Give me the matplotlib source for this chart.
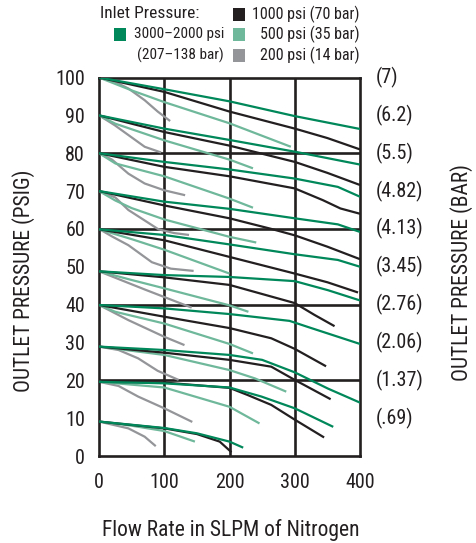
import matplotlib
matplotlib.use("Agg")
import matplotlib.pyplot as plt
from matplotlib import font_manager
from matplotlib.patches import Rectangle

# ---- data: outlet pressure (psig) vs nitrogen flow (SLPM), one curve per set pressure ----
green_curves = [   # 3000-2000 psi inlet
    ([0, 100, 200, 300, 400], [100, 96.9, 93.7, 89.8, 86.4]),
    ([0, 100, 200, 300, 400], [90, 86.5, 83.5, 80.4, 77]),
    ([0, 100, 200, 300, 366, 400], [80, 77.7, 75.7, 73.3, 71.1, 68.5]),
    ([0, 100, 200, 300, 366, 400], [70, 67.2, 65.3, 62.8, 61.2, 59.2]),
    ([0, 100, 200, 300, 366, 400], [59.9, 58.4, 55.9, 53.3, 51.8, 50]),
    ([0, 100, 200, 300, 351, 400], [48.8, 47.8, 47.3, 46.2, 43.8, 41.1]),
    ([0, 100, 200, 292, 320, 400], [39.9, 39, 37.5, 35.7, 34.1, 29.6]),
    ([0, 100, 200, 250, 300, 351, 400], [28.9, 28, 26.7, 25.4, 22.1, 17.8, 14.1]),
    ([0, 100, 200, 249, 300, 359], [19.6, 19.2, 18.1, 15.7, 12.6, 7.7]),
    ([0, 100, 150, 200, 221], [9.1, 7.4, 6, 3.8, 2.2]),
]
black_curves = [   # 1000 psi inlet
    ([0, 100, 200, 300, 350, 400], [100, 96.2, 91, 86.5, 84, 81]),
    ([0, 100, 200, 300, 350, 400], [90, 85.6, 82, 77.7, 74.8, 71.6]),
    ([0, 100, 200, 300, 343, 370, 400], [80, 76.4, 73.9, 70.7, 67.6, 65.4, 64]),
    ([0, 100, 200, 264, 300, 350, 400], [70, 66.2, 62.8, 60, 58.3, 55.3, 52]),
    ([0, 100, 200, 300, 350, 397], [59.9, 57, 52.6, 48.2, 45.9, 43.2]),
    ([0, 100, 200, 300, 330, 361], [48.8, 47.2, 45.2, 40.4, 37.3, 34.3]),
    ([0, 100, 200, 264, 300, 348], [39.9, 36.8, 33.8, 31.1, 28.3, 23.7]),
    ([0, 100, 200, 264, 300, 355], [28.9, 27.3, 25.4, 23.6, 20.1, 15]),
    ([0, 100, 200, 228, 264, 300, 345], [19.6, 19.4, 18, 16.1, 13.5, 9.6, 4.9]),
    ([0, 100, 150, 185, 203], [9.1, 7.3, 5.8, 3.8, 1]),
]
lightgreen_curves = [   # 500 psi inlet
    ([0, 50, 100, 200, 294], [100, 96.6, 93.5, 87.9, 81.7]),
    ([0, 25, 100, 200, 236], [90, 87.8, 83.4, 78.3, 76]),
    ([0, 25, 100, 200, 236], [80, 77.3, 73.9, 68, 65.6]),
    ([0, 25, 50, 100, 200, 241], [70, 67.5, 65.5, 62.5, 57.9, 56.4]),
    ([0, 50, 100, 200], [59.9, 57.3, 54.5, 48.2]),
    ([0, 50, 100, 200, 229], [48.8, 46.5, 44.3, 39.8, 38.1]),
    ([0, 25, 100, 200, 236], [39.9, 38.1, 35, 29.6, 27.1]),
    ([0, 100, 200, 239, 287], [28.9, 26.7, 22.7, 20.5, 17]),
    ([0, 100, 200, 246], [19.6, 18.1, 13, 8.6]),
    ([0, 50, 100, 147], [9.1, 8, 6.6, 3.8]),
]
gray_curves = [   # 200 psi inlet
    ([0, 25, 45, 70, 90, 109], [100, 98.8, 97.1, 94, 91, 88.5]),
    ([0, 24, 45, 70, 95], [90, 87.4, 84.8, 81.7, 80.2]),
    ([0, 20, 45, 70, 100, 132], [80, 78.3, 74.6, 72, 70.2, 68.9]),
    ([0, 25, 45, 91, 115, 138], [70, 68.3, 65, 59.9, 58.9, 58.4]),
    ([0, 20, 45, 81, 110, 145], [60, 58, 55.7, 51.2, 49.5, 48.9]),
    ([0, 70, 142], [48.8, 44, 39.2]),
    ([0, 45, 100, 131], [39.9, 35.9, 31.5, 29.3]),
    ([0, 30, 60, 90, 122], [28.9, 28, 25.8, 22.5, 20.1]),
    ([0, 30, 60, 100, 143], [19.6, 18.5, 15.7, 12.6, 9]),
    ([0, 45, 70, 87], [9.1, 7.3, 5.1, 2.6]),
]

x_ticks = [0, 100, 200, 300, 400]
psig_ticks = [0, 10, 20, 30, 40, 50, 60, 70, 80, 90, 100]
bar_levels = [100, 90, 80, 70, 60, 50, 40, 30, 20, 10]
bar_labels = ["(7)", "(6.2)", "(5.5)", "(4.82)", "(4.13)", "(3.45)", "(2.76)",
              "(2.06)", "(1.37)", "(.69)"]

GREEN = "#00875a"
BLACK = "#231f20"
LIGHT = "#6fb89b"
GRAY = "#939598"


def pick_font():
    for name in ["Liberation Sans Narrow", "Roboto Condensed", "Open Sans Condensed"]:
        try:
            font_manager.findfont(name, fallback_to_default=False)
            return name
        except Exception:
            pass
    return "DejaVu Sans"


FONT = pick_font()
plt.rcParams["font.family"] = [FONT, "DejaVu Sans"]

W, H = 477, 543
fig = plt.figure(figsize=(W / 100, H / 100), dpi=100)


def fx(px):
    return px / W


def fy(py):
    return 1 - py / H


ax = fig.add_axes([fx(99), fy(456), fx(360) - fx(99), fy(77.5) - fy(456)])
ax.set_xlim(0, 400)
ax.set_ylim(0, 100)

# heavy grid
for gx in [100, 200, 300]:
    ax.axvline(gx, color=BLACK, lw=1.9, zorder=1)
for gy in [20, 40, 60, 80]:
    ax.axhline(gy, color=BLACK, lw=1.9, zorder=1)
for s in ax.spines.values():
    s.set_linewidth(1.9)
    s.set_color(BLACK)

for curves, col, z in [(gray_curves, GRAY, 2), (lightgreen_curves, LIGHT, 3),
                       (black_curves, BLACK, 4), (green_curves, GREEN, 5)]:
    for xs, ys in curves:
        ax.plot(xs, ys, color=col, lw=1.6, zorder=z, solid_capstyle="butt",
                solid_joinstyle="round")

TICK_FS = 14.5
ax.set_xticks(x_ticks)
ax.set_yticks(psig_ticks)
ax.tick_params(length=0, labelsize=TICK_FS, colors=BLACK)
ax.tick_params(axis="x", pad=12)
ax.tick_params(axis="y", pad=10)

for lvl, lab in zip(bar_levels, bar_labels):
    ax.text(1.062, lvl, lab, transform=ax.get_yaxis_transform(), ha="left",
            va="center", fontsize=TICK_FS, color=BLACK)

LABEL_FS = 15.5
fig.text(fx(24), fy(281), "OUTLET PRESSURE (PSIG)", rotation=90, ha="center",
         va="center", fontsize=LABEL_FS, color=BLACK)
fig.text(fx(462), fy(272), "OUTLET PRESSURE (BAR)", rotation=90, ha="center",
         va="center", fontsize=LABEL_FS, color=BLACK)
fig.text(fx(231), fy(530), "Flow Rate in SLPM of Nitrogen", ha="center",
         va="center", fontsize=LABEL_FS, color=BLACK)

# legend block
LEG_FS = 11.5
fig.text(fx(100), fy(14), "Inlet Pressure:", ha="left", va="center",
         fontsize=12.5, color=BLACK)


def swatch(x0, y0, col):
    fig.add_artist(Rectangle((fx(x0), fy(y0 + 12.5)), 12.5 / W, 12.5 / H,
                             transform=fig.transFigure, facecolor=col,
                             edgecolor="none"))


swatch(114, 28, GREEN)
fig.text(fx(224), fy(34), "3000\u20132000 psi", ha="right", va="center",
         fontsize=11, color=BLACK)
fig.text(fx(224), fy(55), "(207\u2013138 bar)", ha="right", va="center",
         fontsize=11, color=BLACK)
swatch(233, 8, BLACK)
fig.text(fx(360), fy(14), "1000 psi (70 bar)", ha="right", va="center",
         fontsize=LEG_FS, color=BLACK)
swatch(233, 28, LIGHT)
fig.text(fx(360), fy(34), "500 psi (35 bar)", ha="right", va="center",
         fontsize=LEG_FS, color=BLACK)
swatch(233, 49, GRAY)
fig.text(fx(360), fy(55), "200 psi (14 bar)", ha="right", va="center",
         fontsize=LEG_FS, color=BLACK)

fig.savefig("out.png", dpi=100)
